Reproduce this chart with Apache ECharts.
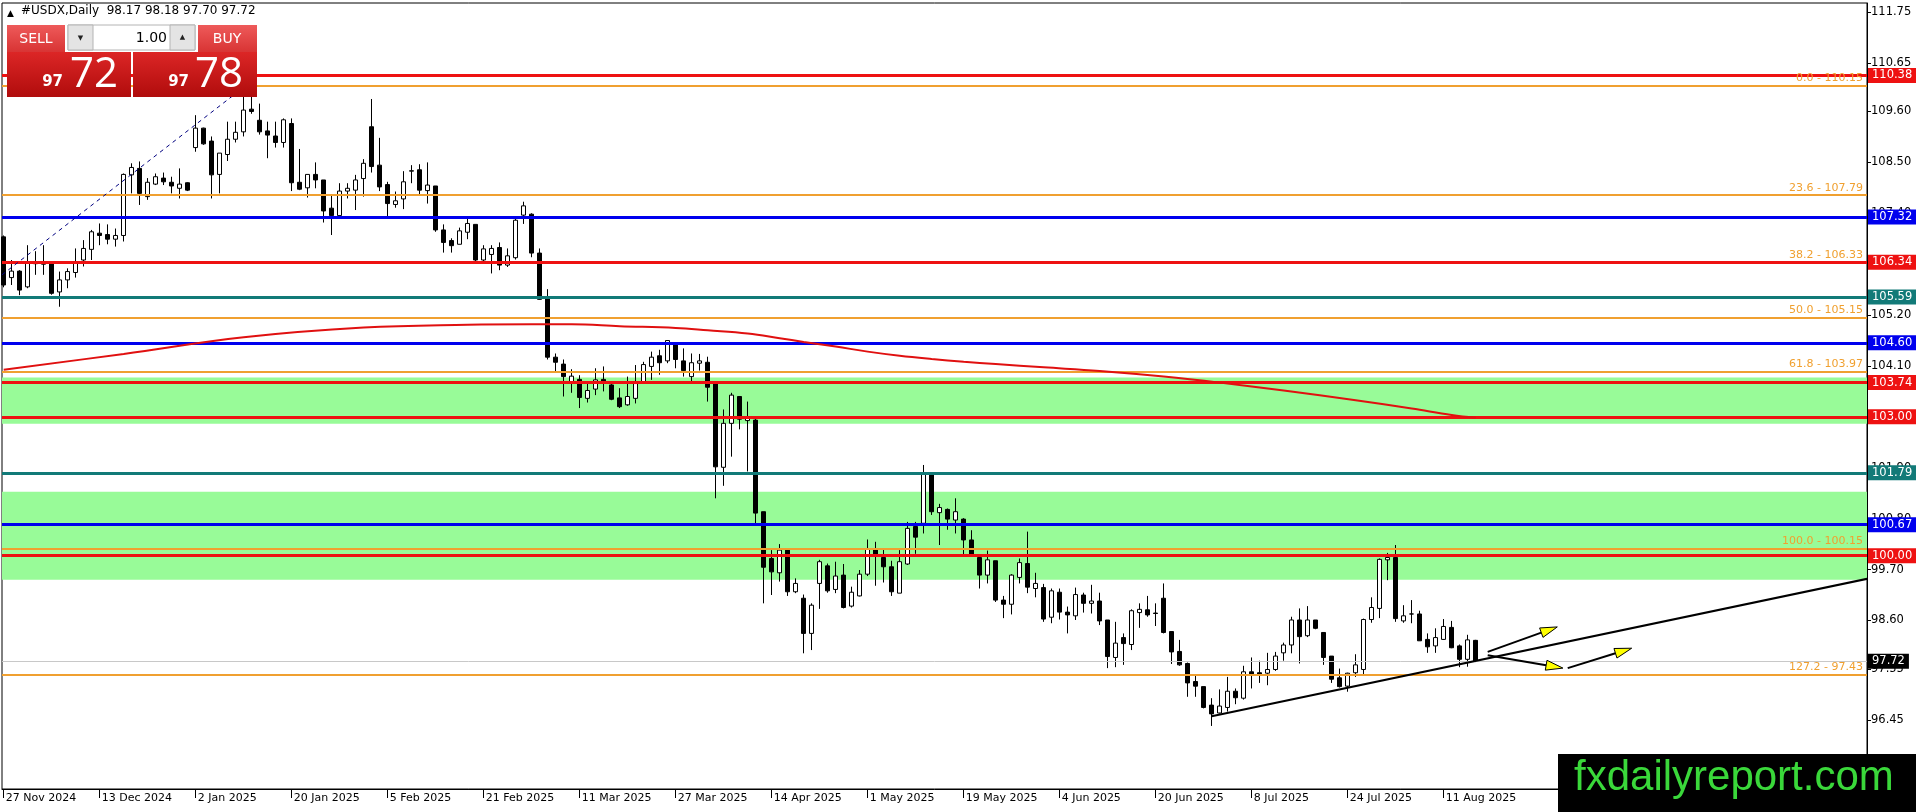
<!DOCTYPE html>
<html><head><meta charset="utf-8">
<script src="https://cdn.jsdelivr.net/npm/echarts@6/dist/echarts.min.js"></script>
<style>html,body{margin:0;padding:0;background:#fff;overflow:hidden}#c{width:1916px;height:812px}</style>
</head><body><div id="c"></div>
<script>
// ---------- data ----------
const symbolTitle = '#USDX,Daily';
const headerOHLC = [98.17, 98.18, 97.70, 97.72];
const sellPrice = ['97', '72'];
const buyPrice = ['97', '78'];
const lotSize = '1.00';
const dateTickIndex = [0, 12, 24, 36, 48, 60, 72, 84, 96, 108, 120, 132, 144, 156, 168, 180];
const dateTickLabels = ['27 Nov 2024','13 Dec 2024','2 Jan 2025','20 Jan 2025','5 Feb 2025','21 Feb 2025','11 Mar 2025','27 Mar 2025','14 Apr 2025','1 May 2025','19 May 2025','4 Jun 2025','20 Jun 2025','8 Jul 2025','24 Jul 2025','11 Aug 2025'];
const priceTicks = [96.45, 97.55, 98.60, 99.70, 100.80, 101.90, 103.00, 104.10, 105.20, 106.30, 107.40, 108.50, 109.60, 110.65, 111.75];

const opens = [106.89,106.01,106.15,105.81,106.33,106.32,106.32,105.70,105.96,106.12,106.39,106.62,106.97,106.94,106.84,106.92,108.23,108.37,107.76,108.03,
108.16,108.07,107.94,108.06,108.82,109.24,108.96,108.24,108.67,109.00,109.16,109.65,109.41,109.18,109.07,108.93,109.34,108.07,107.95,108.24,
108.12,107.51,107.35,107.88,107.90,108.15,109.27,108.44,108.02,107.59,107.71,108.31,108.34,107.89,107.99,107.04,106.81,106.73,106.99,107.16,
106.39,106.51,106.66,106.28,106.44,107.36,107.38,106.54,105.60,104.29,104.14,103.76,103.81,103.40,103.60,103.81,103.69,103.41,103.26,103.40,
103.76,104.09,104.32,104.21,104.60,104.21,103.87,104.16,104.18,103.71,101.91,102.86,103.44,102.92,102.93,100.95,99.94,99.63,100.12,99.22,
99.08,98.32,99.40,99.78,99.27,99.58,98.91,99.13,99.60,100.14,99.96,99.76,99.19,99.82,100.63,100.70,101.77,100.93,101.00,100.77,
100.79,100.34,99.96,99.58,99.89,99.04,98.95,99.53,99.83,99.29,99.31,98.67,99.21,98.78,98.70,99.15,98.97,99.02,98.61,97.80,
98.23,98.08,98.77,98.83,98.76,99.08,98.36,97.93,97.67,97.28,97.17,96.77,96.60,96.72,97.07,96.92,97.49,97.47,97.46,97.54,
97.90,98.07,98.61,98.27,98.61,98.34,97.83,97.36,97.18,97.47,97.54,98.62,98.86,99.91,99.96,98.59,98.74,98.74,98.19,98.05,
98.19,98.45,98.05,97.76,98.17];
const highs = [106.92,106.39,106.17,106.71,106.58,106.71,106.34,106.14,106.21,106.64,106.82,107.04,107.18,107.16,107.07,108.26,108.48,108.52,108.16,108.26,
108.28,108.19,108.37,108.07,109.52,109.25,109.06,108.70,109.38,109.38,109.95,110.15,109.77,109.38,109.38,109.45,109.45,108.79,108.24,108.50,
108.12,107.79,108.05,108.05,108.23,108.57,109.87,109.03,108.08,107.87,108.31,108.44,108.46,108.50,107.99,107.16,106.86,107.09,107.29,107.16,
106.71,106.71,106.77,106.64,107.30,107.65,107.40,106.64,105.76,104.37,104.24,104.03,103.90,103.72,104.05,104.09,103.76,103.62,103.87,104.12,
104.19,104.41,104.45,104.66,104.60,104.48,104.37,104.36,104.30,103.76,103.16,103.52,103.44,103.33,102.97,100.95,100.12,100.25,100.12,99.51,
99.16,98.97,99.91,99.83,99.87,99.82,99.33,99.69,100.35,100.30,100.16,99.89,100.12,100.73,100.73,101.96,101.77,101.12,101.02,101.24,
100.81,100.55,99.96,100.11,99.89,99.13,99.60,99.94,100.52,99.63,99.39,99.29,99.29,98.90,99.31,99.20,99.37,99.20,98.61,98.57,
98.32,98.84,98.97,99.13,98.97,99.40,98.36,98.18,97.69,97.44,97.17,96.92,97.11,97.38,97.13,97.62,97.80,97.73,97.90,97.92,
98.12,98.68,98.86,98.91,98.61,98.34,97.83,97.56,97.47,97.87,98.64,99.10,99.94,100.06,100.23,98.93,99.04,98.81,98.32,98.43,
98.63,98.59,98.08,98.29,98.18];
const lows = [105.80,105.85,105.63,105.78,106.07,106.07,105.64,105.38,105.78,106.01,106.25,106.39,106.71,106.73,106.68,106.79,107.83,107.58,107.69,108.01,
108.01,107.83,107.72,107.88,108.73,108.88,107.72,107.83,108.53,108.93,109.06,109.55,109.10,108.59,108.82,108.82,107.88,107.90,107.74,107.94,
107.20,106.93,107.35,107.72,107.47,107.76,108.28,107.88,107.29,107.52,107.49,108.05,107.78,107.61,107.00,106.55,106.55,106.73,106.84,106.32,
106.33,106.10,106.17,106.24,106.40,107.17,106.45,105.53,104.24,103.98,103.44,103.52,103.19,103.31,103.47,103.55,103.36,103.19,103.24,103.29,
103.74,103.80,103.91,104.16,104.05,103.87,103.76,104.00,103.33,101.24,101.51,102.14,102.73,101.82,100.70,98.97,99.15,99.44,99.13,99.19,
97.89,97.96,98.85,99.20,99.19,98.86,98.88,99.12,99.56,99.35,99.42,99.13,99.19,99.80,100.04,100.48,100.88,100.23,100.56,100.48,
100.02,99.99,99.29,99.40,99.00,98.65,98.73,99.40,99.19,99.10,98.57,98.54,98.62,98.32,98.61,98.77,98.75,98.50,97.57,97.59,
97.64,97.96,98.44,98.68,98.48,98.32,97.66,97.62,96.95,96.95,96.70,96.32,96.59,96.63,96.79,96.89,97.13,97.25,97.20,97.51,
97.73,97.89,97.67,98.24,98.41,97.64,97.25,97.15,97.06,97.38,97.44,98.55,98.65,99.47,98.57,98.55,98.54,98.16,97.90,97.90,
98.18,98.00,97.59,97.60,97.70];
const closes = [105.85,106.15,105.74,106.32,106.31,106.30,105.67,105.96,106.14,106.32,106.64,107.00,106.92,106.84,106.92,108.24,108.39,107.83,108.07,108.19,
108.08,107.99,108.03,107.90,109.24,108.90,108.23,108.70,109.00,109.15,109.63,109.60,109.16,109.09,108.93,109.42,108.06,107.92,108.24,108.12,
107.45,107.35,107.88,107.94,108.12,108.48,108.41,107.97,107.61,107.67,108.08,108.32,107.90,108.01,107.04,106.77,106.70,107.02,107.18,106.39,
106.63,106.64,106.28,106.48,107.25,107.56,106.54,105.54,104.29,104.18,103.87,103.88,103.42,103.57,103.80,103.74,103.38,103.22,103.44,103.72,
104.13,104.29,104.17,104.65,104.24,104.00,104.17,104.21,103.64,101.92,102.86,103.47,102.95,102.98,100.92,99.75,99.65,100.12,99.22,99.40,
98.32,98.93,99.87,99.24,99.56,98.88,99.21,99.60,100.14,99.99,99.76,99.22,99.87,100.59,100.40,101.77,100.95,101.04,100.79,100.95,
100.34,99.99,99.58,99.91,99.04,98.95,99.58,99.85,99.32,99.40,98.63,99.24,98.78,98.72,99.16,98.97,99.02,98.59,97.82,98.11,
98.10,98.81,98.84,98.72,98.75,98.34,97.92,97.64,97.25,97.18,96.72,96.58,96.75,97.07,96.93,97.49,97.42,97.42,97.54,97.83,
98.07,98.61,98.25,98.61,98.43,97.80,97.33,97.17,97.46,97.64,98.62,98.88,99.92,99.96,98.64,98.70,98.74,98.16,98.03,98.23,
98.47,98.01,97.76,98.18,97.72];

// moving average read at sample bars
const maBars   = [0, 15, 30, 45, 58, 66, 71, 77, 84, 88, 93, 97, 100, 104, 108, 112, 116, 120, 124, 130, 137, 145, 152, 160, 169, 176, 181, 184];
const maValues = [104.02,104.36,104.72,104.93,104.99,105.00,105.00,104.96,104.92,104.87,104.80,104.70,104.62,104.52,104.41,104.32,104.25,104.19,104.14,104.07,103.99,103.87,103.74,103.57,103.36,103.18,103.04,102.98];

// horizontal levels
const redLevels  = [110.38, 106.34, 103.74, 103.00, 100.00];
const blueLevels = [107.32, 104.60, 100.67];
const tealLevels = [105.59, 101.79];
const fibRatios  = ['0.0', '23.6', '38.2', '50.0', '61.8', '100.0', '127.2'];
const fibPrices  = [110.15, 107.79, 106.33, 105.15, 103.97, 100.15, 97.43];
const zoneLows   = [102.85, 99.48];
const zoneHighs  = [103.85, 101.38];
const lastPrice  = 97.72;

// drawn objects (bar index, price)
const fibLineBars = [-0.21, 30.2];
const fibLinePrices = [106.07, 110.15];
const trendBars = [151, 239];
const trendPrices = [96.53, 99.72];
const arrowFromBars = [185.5, 185.5, 195.5];
const arrowFromPrices = [97.92, 97.85, 97.57];
const arrowToBars = [194.2, 194.9, 203.5];
const arrowToPrices = [98.46, 97.57, 98.00];
const watermark = 'fxdailyreport.com';

// ---------- chart ----------
const RED = '#ee1111', BLUE = '#0000ee', TEAL = '#127a78', ORANGE = '#f0a030', GREEN = '#98fb98';
const FONT = 'DejaVu Sans';
const gridLeft = 2, gridRight = 49, gridTop = 3, gridBottom = 23;
const pxPerBar = 8, firstBarX = 3.7;
const plotW = 1916 - gridLeft - gridRight;
const xMin = (gridLeft - firstBarX) / pxPerBar;
const xMax = xMin + plotW / pxPerBar;
const pxPerPrice = 46.27;
const yMax = 111.75 + (12 - gridTop) / pxPerPrice;
const yMin = 111.75 - ((812 - gridBottom) - 12) / pxPerPrice;

const candleData = opens.map((o, i) => [i, o, closes[i], lows[i], highs[i]]);

function boxLine(v, c) {
  return {
    yAxis: v,
    lineStyle: { color: c, width: 3, type: 'solid' },
    label: { show: true, position: 'end', distance: 1, formatter: v.toFixed(2), color: '#fff', backgroundColor: c,
      padding: [2, 4, 1, 4], fontSize: 11.5, fontFamily: FONT }
  };
}
const levelData = [];
fibPrices.forEach((v, i) => levelData.push({
  yAxis: v,
  lineStyle: { color: ORANGE, width: 2, type: 'solid' },
  label: { show: true, position: 'insideEndTop', distance: [4, 2], formatter: fibRatios[i] + ' - ' + v.toFixed(2),
    color: ORANGE, fontSize: 11, fontFamily: FONT }
}));
redLevels.forEach(v => levelData.push(boxLine(v, RED)));
blueLevels.forEach(v => levelData.push(boxLine(v, BLUE)));
tealLevels.forEach(v => levelData.push(boxLine(v, TEAL)));
const lastLine = boxLine(lastPrice, '#000');
lastLine.lineStyle = { color: '#c8c8c8', width: 1, type: 'solid' };
levelData.push(lastLine);

const redGrad = () => new echarts.graphic.LinearGradient(0, 0, 0, 1, [{ offset: 0, color: '#ee5a5a' }, { offset: 1, color: '#d83434' }]);
const darkGrad = () => new echarts.graphic.LinearGradient(0, 0, 0, 1, [{ offset: 0, color: '#dc2626' }, { offset: 1, color: '#b00c0c' }]);

const chart = echarts.init(document.getElementById('c'), null, { renderer: 'canvas' });
chart.setOption({
  animation: false,
  backgroundColor: '#ffffff',
  textStyle: { fontFamily: FONT },
  grid: { left: gridLeft, right: gridRight, top: gridTop, bottom: gridBottom, show: true,
    borderColor: '#000', borderWidth: 1, backgroundColor: 'transparent', containLabel: false, outerBoundsMode: 'none' },
  xAxis: {
    type: 'value', min: xMin, max: xMax, splitLine: { show: false },
    axisLine: { show: true, onZero: false, lineStyle: { color: '#000', width: 1 } },
    axisTick: { show: true, customValues: dateTickIndex, length: 9, lineStyle: { color: '#000' } },
    axisLabel: { show: true, customValues: dateTickIndex, align: 'left', margin: 4, padding: [0, 0, 0, 2],
      color: '#000', fontSize: 11, fontFamily: FONT,
      formatter: v => { const k = dateTickIndex.indexOf(Math.round(v)); return k >= 0 ? dateTickLabels[k] : ''; } }
  },
  yAxis: {
    type: 'value', position: 'right', min: yMin, max: yMax, splitLine: { show: false },
    axisLine: { show: true, onZero: false, lineStyle: { color: '#000', width: 1 } },
    axisTick: { show: true, customValues: priceTicks, length: 4, lineStyle: { color: '#000' } },
    axisLabel: { show: true, customValues: priceTicks, margin: 4, color: '#000', fontSize: 11.5, fontFamily: FONT,
      formatter: v => v.toFixed(2) }
  },
  series: [
    { type: 'line', name: 'zones', data: [], z: 1, silent: true,
      markArea: { silent: true, itemStyle: { color: GREEN, opacity: 1 },
        data: zoneLows.map((lo, i) => [{ yAxis: lo }, { yAxis: zoneHighs[i] }]) } },
    { type: 'candlestick', name: 'USDX', data: candleData, encode: { x: 0, y: [1, 2, 3, 4] }, z: 3,
      barWidth: 5, silent: true,
      itemStyle: { color: '#ffffff', color0: '#000000', borderColor: '#000000', borderColor0: '#000000',
        borderColorDoji: '#000000', borderWidth: 1 } },
    { type: 'line', name: 'levels', data: [], z: 5, silent: true,
      markLine: { silent: true, symbol: ['none', 'none'], animation: false, data: levelData } },
    { type: 'line', name: 'MA', data: maBars.map((b, i) => [b, maValues[i]]), z: 6, smooth: 0.4,
      showSymbol: false, symbol: 'none', lineStyle: { color: '#e01010', width: 2 }, silent: true },
    { type: 'line', name: 'fibline', data: fibLineBars.map((b, i) => [b, fibLinePrices[i]]), z: 6,
      showSymbol: false, symbol: 'none', lineStyle: { color: '#000080', width: 1, type: [4, 4] }, silent: true },
    { type: 'line', name: 'trend', data: trendBars.map((b, i) => [b, trendPrices[i]]), z: 7, clip: false,
      showSymbol: false, symbol: 'none', lineStyle: { color: '#000', width: 2 }, silent: true },
    { type: 'custom', name: 'arrows', z: 8, silent: true, clip: false,
      data: arrowFromBars.map((b, i) => [b, arrowFromPrices[i], arrowToBars[i], arrowToPrices[i]]),
      encode: { x: [0, 2], y: [1, 3] },
      renderItem: function (params, api) {
        const p1 = api.coord([api.value(0), api.value(1)]);
        const p2 = api.coord([api.value(2), api.value(3)]);
        const dx = p2[0] - p1[0], dy = p2[1] - p1[1];
        const len = Math.sqrt(dx * dx + dy * dy);
        const ux = dx / len, uy = dy / len;
        const hl = 17, hw = 5;
        const bx = p2[0] - ux * hl, by = p2[1] - uy * hl;
        const nx = -uy, ny = ux;
        return { type: 'group', children: [
          { type: 'line', shape: { x1: p1[0], y1: p1[1], x2: bx, y2: by }, style: { stroke: '#000', lineWidth: 2 } },
          { type: 'polygon', shape: { points: [[p2[0], p2[1]], [bx + nx * hw, by + ny * hw], [bx - nx * hw, by - ny * hw]] },
            style: { fill: '#ffff00', stroke: '#000', lineWidth: 1 } }
        ] };
      } }
  ],
  graphic: [
    // header
    { type: 'text', z: 100, left: 7, top: 9, style: { text: '▲', fontSize: 9, fill: '#000', fontFamily: FONT } },
    { type: 'text', z: 100, left: 21, top: 5, style: { text: symbolTitle + '  ' + headerOHLC.map(v => v.toFixed(2)).join(' '),
      fontSize: 12, fill: '#000', fontFamily: FONT } },
    // trade panel
    { type: 'rect', z: 100, shape: { x: 7, y: 25, width: 58, height: 27 }, style: { fill: redGrad() } },
    { type: 'text', z: 101, x: 36, y: 39, style: { text: 'SELL', fill: '#fff', fontSize: 14, fontFamily: FONT, align: 'center', verticalAlign: 'middle' } },
    { type: 'rect', z: 100, shape: { x: 198, y: 25, width: 59, height: 27 }, style: { fill: redGrad() } },
    { type: 'text', z: 101, x: 227, y: 39, style: { text: 'BUY', fill: '#fff', fontSize: 14, fontFamily: FONT, align: 'center', verticalAlign: 'middle' } },
    { type: 'rect', z: 100, shape: { x: 68, y: 25, width: 127, height: 25 }, style: { fill: '#ffffff', stroke: '#b4b4b4', lineWidth: 1 } },
    { type: 'rect', z: 101, shape: { x: 68, y: 25, width: 25, height: 25 }, style: { fill: '#e4e4e4', stroke: '#b4b4b4', lineWidth: 1 } },
    { type: 'rect', z: 101, shape: { x: 170, y: 25, width: 25, height: 25 }, style: { fill: '#e4e4e4', stroke: '#b4b4b4', lineWidth: 1 } },
    { type: 'text', z: 102, x: 80.5, y: 38, style: { text: '▼', fill: '#222', fontSize: 7, fontFamily: FONT, align: 'center', verticalAlign: 'middle' } },
    { type: 'text', z: 102, x: 182.5, y: 37, style: { text: '▲', fill: '#222', fontSize: 7, fontFamily: FONT, align: 'center', verticalAlign: 'middle' } },
    { type: 'text', z: 102, x: 167, y: 38, style: { text: lotSize, fill: '#000', fontSize: 14, fontFamily: FONT, align: 'right', verticalAlign: 'middle' } },
    { type: 'rect', z: 100, shape: { x: 7, y: 52, width: 124, height: 45 }, style: { fill: darkGrad() } },
    { type: 'rect', z: 100, shape: { x: 133, y: 52, width: 124, height: 45 }, style: { fill: darkGrad() } },
    { type: 'text', z: 101, x: 63, y: 90, style: { text: sellPrice[0], fill: '#fff', fontSize: 15, fontWeight: 'bold', fontFamily: FONT, align: 'right', verticalAlign: 'bottom' } },
    { type: 'text', z: 101, x: 70, y: 75, style: { text: sellPrice[1], fill: '#fff', fontSize: 42, fontFamily: 'Open Sans', align: 'left', verticalAlign: 'middle' } },
    { type: 'text', z: 101, x: 189, y: 90, style: { text: buyPrice[0], fill: '#fff', fontSize: 15, fontWeight: 'bold', fontFamily: FONT, align: 'right', verticalAlign: 'bottom' } },
    { type: 'text', z: 101, x: 195, y: 75, style: { text: buyPrice[1], fill: '#fff', fontSize: 42, fontFamily: 'Open Sans', align: 'left', verticalAlign: 'middle' } },
    // watermark
    { type: 'rect', z: 100, shape: { x: 1558, y: 754, width: 358, height: 58 }, style: { fill: '#000' } },
    { type: 'text', z: 101, x: 1574, y: 778, style: { text: watermark, fill: '#3ad83a', fontSize: 42, fontFamily: 'Liberation Sans', align: 'left', verticalAlign: 'middle' } }
  ]
});
</script></body></html>
